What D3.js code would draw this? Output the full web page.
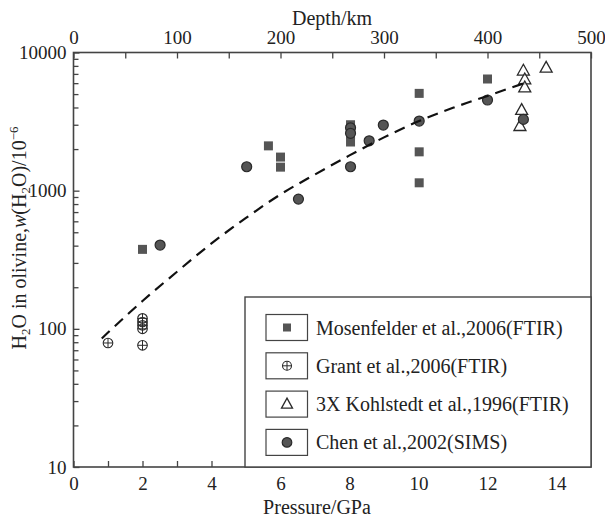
<!DOCTYPE html>
<html><head><meta charset="utf-8">
<script src="https://cdn.jsdelivr.net/npm/d3@7"></script>
<style>
html,body{margin:0;padding:0;background:#fff;}
svg text{font-family:"Liberation Serif","Times New Roman",serif;fill:#222;}
</style></head>
<body><svg id="c" width="605" height="518"></svg>
<script>
// ---- data ----
const mosenfelderP = [2.0, 5.65, 6.0, 6.0, 8.03, 8.03, 8.03, 10.02, 10.02, 10.02, 12.0];
const mosenfelderV = [376, 2110, 1750, 1480, 3000, 2550, 2250, 5060, 1910, 1140, 6430];
const grantP = [1.0, 2.0, 2.0, 2.0, 2.0, 2.0];
const grantV = [79, 76, 119, 112, 106, 100];
const kohlstedtP = [13.04, 13.08, 13.08, 13.7, 12.99, 12.94];
const kohlstedtV = [7380, 6380, 5580, 7740, 3830, 2930];
const chenP = [2.51, 5.02, 6.52, 8.03, 8.03, 8.03, 8.57, 8.98, 10.02, 12.0, 13.04];
const chenV = [404, 1490, 869, 2850, 2600, 1490, 2296, 2985, 3190, 4530, 3280];
const trendP = [0.82, 1, 2, 3, 4, 5, 6, 7, 8, 9, 10, 11, 12, 13.04];
const trendV = [85, 94, 159, 259, 415, 635, 940, 1310, 1800, 2430, 3180, 3980, 4850, 5970];
const pressureTicks = [0, 2, 4, 6, 8, 10, 12, 14];
const depthTicks = [0, 100, 200, 300, 400, 500];
const waterTicks = [10, 100, 1000, 10000];
const legendLabels = ["Mosenfelder et al.,2006(FTIR)", "Grant et al.,2006(FTIR)", "3X Kohlstedt et al.,1996(FTIR)", "Chen et al.,2002(SIMS)"];

const svg = d3.select("#c");
const L = 73.5, R = 591, T = 52.5, B = 467;
const x = d3.scaleLinear().domain([0, 15]).range([L, R]);
const xd = d3.scaleLinear().domain([0, 500]).range([L, R]);
const y = d3.scaleLog().domain([10, 10000]).range([B, T]);
const axisCol = "#444";

// frame
svg.append("rect").attr("x", L).attr("y", T).attr("width", R - L).attr("height", B - T)
  .attr("fill", "none").attr("stroke", axisCol).attr("stroke-width", 1.6);

// bottom axis
const gb = svg.append("g").attr("transform", `translate(0,${B})`)
  .call(d3.axisBottom(x).tickValues(d3.range(0, 15, 1)).tickSize(-6).tickFormat(d => pressureTicks.includes(d) ? d : "").tickPadding(10));
// top axis
const gt = svg.append("g").attr("transform", `translate(0,${T})`)
  .call(d3.axisTop(xd).tickValues(d3.range(0, 501, 50)).tickSize(-6).tickFormat(d => depthTicks.includes(d) ? d : "").tickPadding(9));
// left axis
const minor = [];
for (let e = 1; e <= 3; e++) for (let k = 1; k <= 9; k++) minor.push(k * Math.pow(10, e));
minor.push(10000);
const gl = svg.append("g").attr("transform", `translate(${L},0)`)
  .call(d3.axisLeft(y).tickValues(minor).tickSize(-5).tickFormat(d => waterTicks.includes(d) ? d : "").tickPadding(7));
[gb, gt, gl].forEach(g => {
  g.select(".domain").remove();
  g.selectAll(".tick line").attr("stroke", axisCol).attr("stroke-width", 1.3);
  g.selectAll(".tick text").attr("font-size", 19).attr("fill", "#222")
    .attr("font-family", "Liberation Serif");
});
gl.selectAll(".tick line").attr("x2", d => waterTicks.includes(d) ? 6 : 5);

// axis titles
svg.append("text").attr("x", 332).attr("y", 25).attr("text-anchor", "middle").attr("font-size", 20).text("Depth/km");
svg.append("text").attr("x", 317).attr("y", 514).attr("text-anchor", "middle").attr("font-size", 20).text("Pressure/GPa");
const yt = svg.append("text").attr("transform", "translate(26,238) rotate(-90)").attr("text-anchor", "middle").attr("font-size", 20);
yt.append("tspan").text("H");
yt.append("tspan").attr("font-size", 13).attr("dy", 4).text("2");
yt.append("tspan").attr("dy", -4).text("O in olivine,");
yt.append("tspan").attr("font-style", "italic").text("w");
yt.append("tspan").text("(H");
yt.append("tspan").attr("font-size", 13).attr("dy", 4).text("2");
yt.append("tspan").attr("dy", -4).text("O)/10");
yt.append("tspan").attr("font-size", 13).attr("dy", -8).text("−6");

// marker drawers
const fillCol = "#555", darkStroke = "#2a2a2a";
function square(g, cx, cy, s) {
  g.append("rect").attr("x", cx - s / 2).attr("y", cy - s / 2).attr("width", s).attr("height", s)
    .attr("fill", fillCol).attr("stroke", "none");
}
function grant(g, cx, cy, r) {
  g.append("circle").attr("cx", cx).attr("cy", cy).attr("r", r).attr("fill", "none").attr("stroke", darkStroke).attr("stroke-width", 1.1);
  g.append("line").attr("x1", cx - r).attr("x2", cx + r).attr("y1", cy).attr("y2", cy).attr("stroke", darkStroke).attr("stroke-width", 1);
  g.append("line").attr("x1", cx).attr("x2", cx).attr("y1", cy - r).attr("y2", cy + r).attr("stroke", darkStroke).attr("stroke-width", 1);
}
function tri(g, cx, cy, s) {
  const h = s * 0.9;
  g.append("path").attr("d", `M${cx},${cy - h * 0.6}L${cx + s / 2},${cy + h * 0.4}L${cx - s / 2},${cy + h * 0.4}Z`)
    .attr("fill", "#fff").attr("fill-opacity", 0.6).attr("stroke", darkStroke).attr("stroke-width", 1.3);
}
function dot(g, cx, cy, r) {
  g.append("circle").attr("cx", cx).attr("cy", cy).attr("r", r).attr("fill", fillCol).attr("stroke", darkStroke).attr("stroke-width", 1.2);
}

const gm = svg.append("g");
mosenfelderP.forEach((p, i) => square(gm, x(p), y(mosenfelderV[i]), 9));
grantP.forEach((p, i) => grant(gm, x(p), y(grantV[i]), 4.8));
kohlstedtP.forEach((p, i) => tri(gm, x(p), y(kohlstedtV[i]), 12));
chenP.forEach((p, i) => dot(gm, x(p), y(chenV[i]), 5));

// trend line
const line = d3.line().x(d => x(d[0])).y(d => y(d[1])).curve(d3.curveCatmullRom);
svg.append("path").datum(trendP.map((p, i) => [p, trendV[i]])).attr("d", line)
  .attr("fill", "none").attr("stroke", "#111").attr("stroke-width", 2.2).attr("stroke-dasharray", "11,7");

// legend
const lg = svg.append("g");
lg.append("rect").attr("x", 245).attr("y", 297).attr("width", R - 245).attr("height", B - 297)
  .attr("fill", "#fff").attr("stroke", axisCol).attr("stroke-width", 1.4);
const drawers = [(g, cx, cy) => square(g, cx, cy, 8), (g, cx, cy) => grant(g, cx, cy, 4.5), (g, cx, cy) => tri(g, cx, cy, 11), (g, cx, cy) => dot(g, cx, cy, 4.8)];
legendLabels.forEach((t, i) => {
  const cy = 327.5 + i * 38.3;
  lg.append("rect").attr("x", 266).attr("y", cy - 13).attr("width", 41.5).attr("height", 26)
    .attr("fill", "#fff").attr("stroke", axisCol).attr("stroke-width", 1.2);
  drawers[i](lg, 287, cy);
  lg.append("text").attr("x", 316).attr("y", cy + 7).attr("font-size", 20).text(t);
});
</script></body></html>
